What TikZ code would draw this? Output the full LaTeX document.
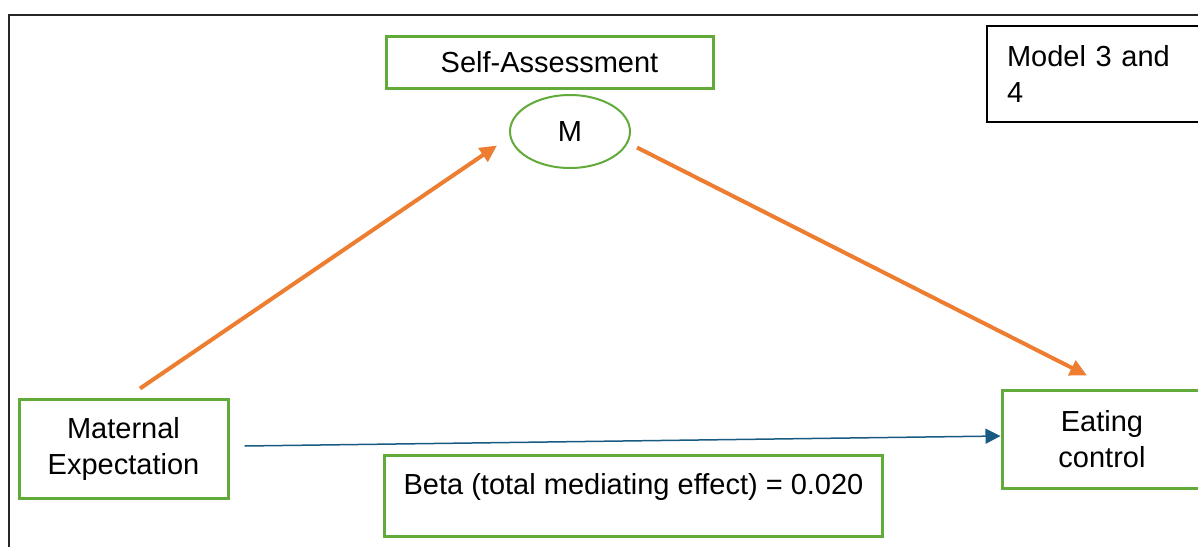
\documentclass[tikz,border=0pt]{standalone}
\usepackage{fontspec}
\setmainfont{Liberation Sans}
\usetikzlibrary{shapes.geometric, arrows.meta}
\definecolor{boxgreen}{RGB}{98,170,58}
\definecolor{pathorange}{RGB}{237,125,49}
\definecolor{pathblue}{RGB}{24,90,130}
\tikzstyle{varbox} = [rectangle, minimum width=209pt, minimum height=99pt, align=center, draw=boxgreen, line width=3pt]
\tikzstyle{labelbox} = [rectangle, align=center, draw=boxgreen, line width=3pt]
\tikzstyle{mediator} = [ellipse, minimum width=120pt, minimum height=73pt, draw=boxgreen, line width=2pt]
\tikzstyle{orangearrow} = [line width=4pt, pathorange, -{Triangle[length=17pt,width=16pt]}]
\tikzstyle{bluearrow} = [line width=1.5pt, pathblue, -{Triangle[length=15pt,width=15pt]}]

\begin{document}
\begin{tikzpicture}[x=1pt, y=-1pt, font=\fontsize{29}{36}\selectfont]

    \useasboundingbox (0,0) rectangle (1198,546);
    \clip (0,0) rectangle (1198,546);
    \draw [line width=2pt, black!85] (8.5,560) -- (8.5,14.5) -- (1210,14.5);

    \node (selfassess) [labelbox, minimum width=327pt, minimum height=52pt] at (549.5,62) {Self-Assessment};
    \node (m) [mediator] at (570,131.5) {M};
    \node (maternal) [varbox] at (123.5,448.5) {Maternal\\Expectation};
    \node (eating) [varbox, minimum width=200pt, minimum height=98pt] at (1102,439) {Eating\\control};
    \node (beta) [labelbox, anchor=north west, minimum width=498pt, inner sep=0pt, text height=39pt, text depth=42pt] at (383,454) {Beta (total mediating effect) = 0.020};
    \node (model) [rectangle, draw=black, line width=2pt, anchor=north west, text width=200pt, inner xsep=20pt, minimum height=96pt, align=left] at (986,25) {Model 3 and\\4};

    \draw [orangearrow] ([xshift=16.5pt,yshift=9pt]maternal.north) -- ([xshift=-12pt,yshift=-14pt]m.west);
    \draw [orangearrow] ([xshift=6pt,yshift=-16pt]m.east) -- ([xshift=-15pt,yshift=13pt]eating.north);
    \draw [bluearrow] ([xshift=15pt,yshift=2.5pt]maternal.east) -- ([yshift=3pt]eating.west);

\end{tikzpicture}
\end{document}
